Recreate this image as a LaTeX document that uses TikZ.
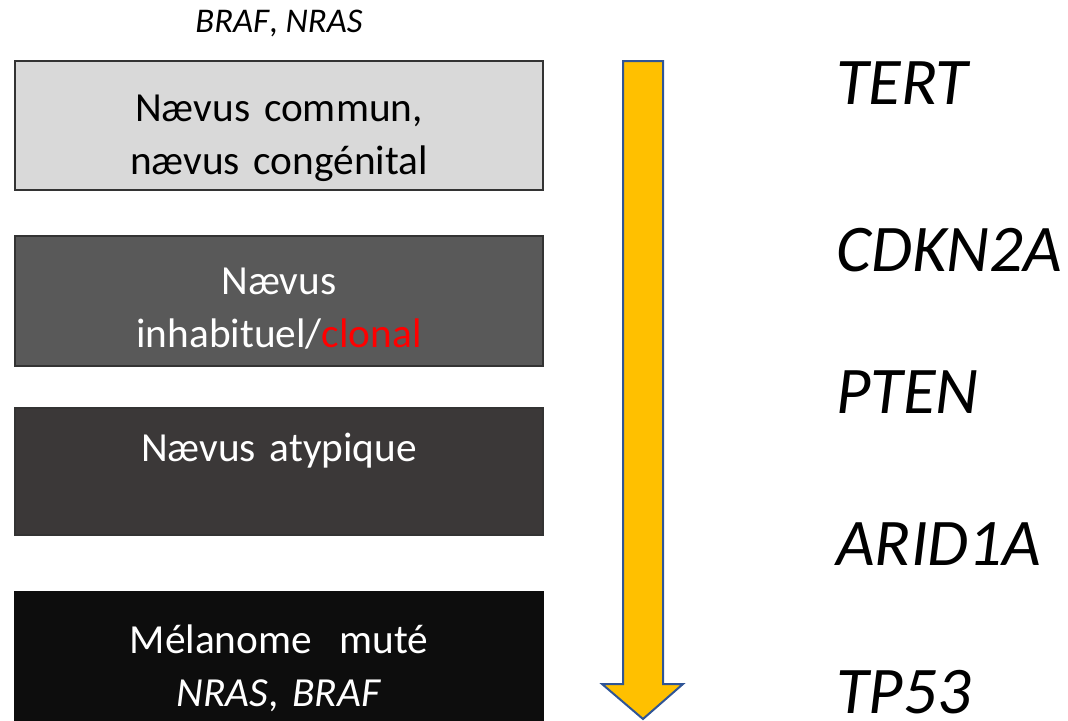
\documentclass[tikz,border=0pt]{standalone}
\usepackage{fontspec}
\setmainfont{Carlito}
\usetikzlibrary{positioning}
\definecolor{lightstage}{HTML}{D9D9D9}
\definecolor{midstage}{HTML}{595959}
\definecolor{darkstage}{HTML}{3B3838}
\definecolor{blackstage}{HTML}{0D0D0D}
\definecolor{arrowfill}{HTML}{FFC000}
\definecolor{arrowline}{HTML}{2F5597}
\definecolor{clonalred}{HTML}{FF0000}
\newcommand{\lift}[1]{\rule{0pt}{#1}}
\tikzstyle{stage}=[draw=black!80, line width=1pt, minimum width=396pt,
  text width=380pt, align=center, font=\fontsize{31}{40}\selectfont]
\tikzstyle{gene}=[anchor=base west, inner sep=0pt,
  font=\fontsize{50}{60}\selectfont\itshape]

\begin{document}
\begin{tikzpicture}[x=0.75pt,y=-0.75pt]
    \useasboundingbox (0,0) rectangle (1068,721);

    % stages of the lesion
    \node[anchor=base, font=\fontsize{26}{30}\selectfont] (drivers) at (279,32) {\textit{BRAF}, \textit{NRAS}};
    \node[stage, fill=lightstage, minimum height=96.75pt]           (n_1) at (279,125.5) {\lift{39pt}Nævus commun,\\nævus congénital};
    \node[stage, fill=midstage, text=white, minimum height=97.5pt]    (n_2) at (279,301)   {\lift{31pt}Nævus\\inhabituel/\textcolor{clonalred}{clonal}};
    \node[stage, fill=darkstage, text=white, minimum height=95.25pt]  (n_3) at (279,471.5) {Nævus atypique\\[-4pt]\mbox{}};
    \node[stage, fill=blackstage, draw=blackstage, text=white, minimum height=96.75pt] (n_4) at (279,656.5) {\lift{39pt}Mélanome\ \ muté\\\textit{NRAS}, \textit{BRAF}};

    % progression arrow
    \filldraw[fill=arrowfill, draw=arrowline, line width=1.5pt]
      (623,61) -- (663,61) -- (663,684) -- (683,684) -- (643,719)
      -- (602,684) -- (623,684) -- cycle;

    % genes hit along the way
    \node[gene] (g_1) at (836,104) {TERT};
    \node[gene] (g_2) at (836,271) {CDKN2A};
    \node[gene] (g_3) at (836,413) {PTEN};
    \node[gene] (g_4) at (836,565) {ARID1A};
    \node[gene] (g_5) at (836,713) {TP53};
\end{tikzpicture}
\end{document}
